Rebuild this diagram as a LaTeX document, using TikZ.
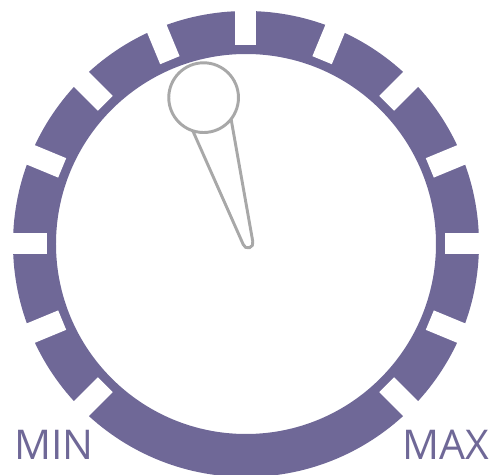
\documentclass[tikz,border=0pt]{standalone}
\usepackage{fontspec}
\setmainfont{Open Sans}
\definecolor{DialPurple}{HTML}{6F6897}
\definecolor{NeedleGray}{HTML}{A8A8A8}
\usepackage{tikz}
\usetikzlibrary{positioning, calc}

\begin{document}
\begin{tikzpicture}[scale=0.03,
    needle/.style={draw=NeedleGray, line width=2.5pt, fill=white, line join=round},
    dialtext/.style={font=\fontsize{35}{35}\selectfont, text=DialPurple, inner sep=0pt}]
        \useasboundingbox (-246,-231) rectangle (244,244);

        % Dial ring
        \fill[DialPurple, even odd rule] (0,0) circle (233) (0,0) circle (190);

        % Notches in the ring
        \foreach \ang in {-45,-22.5,0,22.5,45,67.5,90,112.5,135,157.5,180,202.5,225}
            \fill[white, rotate=\ang] (199,-10.5) rectangle (245,10.5);

        % Needle
        \coordinate (hub) at (2,1);
        \begin{scope}[shift={(hub)}, rotate=107]
            \draw[needle] (123.3,20) -- (0,5) arc[start angle=90, end angle=270, radius=5] -- (123.3,-20);
            \node[needle, circle, minimum size=70*0.85pt, inner sep=0pt] (knob) at (152,0) {};
        \end{scope}

        % Labels
        \node[dialtext, anchor=base west] (min) at (-232,-216) {MIN};
        \node[dialtext, anchor=base east] (max) at (243,-216) {MAX};
    \end{tikzpicture}
\end{document}
